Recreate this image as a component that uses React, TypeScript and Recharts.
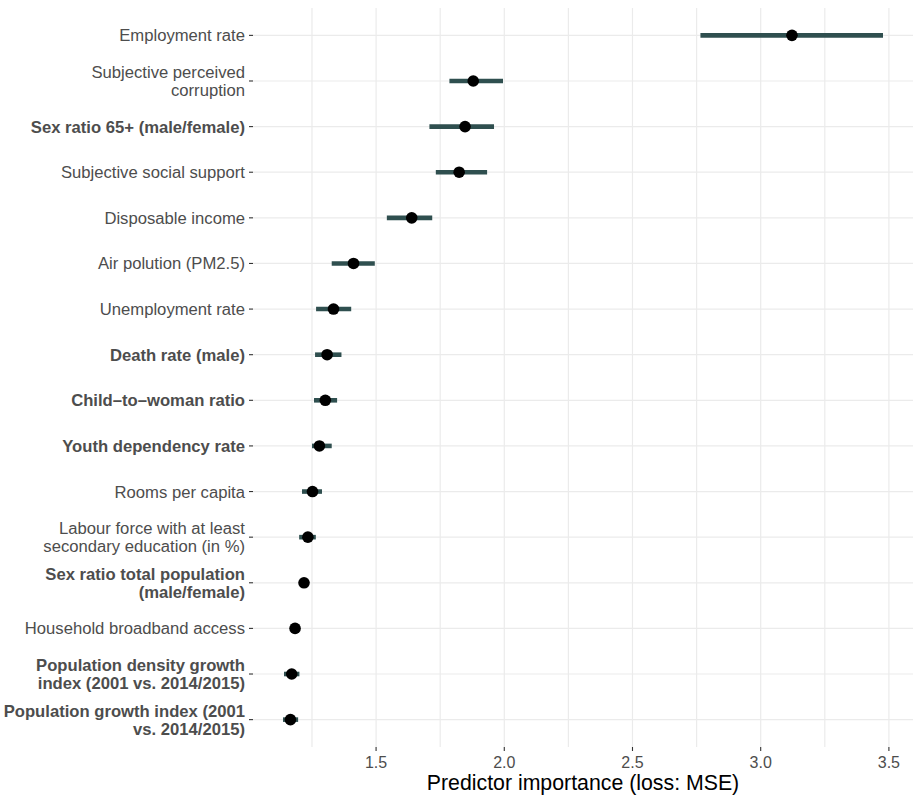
import React from "react";
import { ScatterChart, Scatter, XAxis, YAxis, CartesianGrid, ErrorBar } from "recharts";

const predictors = [
  "Employment rate",
  "Subjective perceived\ncorruption",
  "Sex ratio 65+ (male/female)",
  "Subjective social support",
  "Disposable income",
  "Air polution (PM2.5)",
  "Unemployment rate",
  "Death rate (male)",
  "Child\u2013to\u2013woman ratio",
  "Youth dependency rate",
  "Rooms per capita",
  "Labour force with at least\nsecondary education (in %)",
  "Sex ratio total population\n(male/female)",
  "Household broadband access",
  "Population density growth\nindex (2001 vs. 2014/2015)",
  "Population growth index (2001\nvs. 2014/2015)",
];

const highlighted = [
  "Sex ratio 65+ (male/female)",
  "Death rate (male)",
  "Child\u2013to\u2013woman ratio",
  "Youth dependency rate",
  "Sex ratio total population\n(male/female)",
  "Population density growth\nindex (2001 vs. 2014/2015)",
  "Population growth index (2001\nvs. 2014/2015)",
];

const importance = [3.122, 1.879, 1.847, 1.824, 1.639, 1.412, 1.334, 1.309, 1.302, 1.279, 1.252, 1.234, 1.219, 1.184, 1.171, 1.166];
const lower = [2.765, 1.786, 1.708, 1.733, 1.542, 1.327, 1.266, 1.262, 1.258, 1.25, 1.211, 1.2, 1.203, 1.17, 1.141, 1.137];
const upper = [3.477, 1.995, 1.96, 1.933, 1.719, 1.495, 1.403, 1.365, 1.348, 1.327, 1.289, 1.265, 1.235, 1.198, 1.201, 1.196];

const xTicks = [1.25, 1.5, 1.75, 2.0, 2.25, 2.5, 2.75, 3.0, 3.25, 3.5];
const xMajor = [1.5, 2.0, 2.5, 3.0, 3.5];
const xTitle = "Predictor importance (loss: MSE)";

const rows = predictors.map((name, i) => ({
  name,
  pos: i + 1,
  value: importance[i],
  err: [importance[i] - lower[i], upper[i] - importance[i]],
}));

const FONT = "'Liberation Sans', Arial, Helvetica, sans-serif";
const TEXT_GREY = "#4D4D4D";

const YTick = (props: any) => {
  const { x, y, payload } = props;
  const idx = Math.round(payload.value) - 1;
  const label = predictors[idx];
  if (!label) return <g />;
  const lines = label.split("\n");
  const bold = highlighted.includes(label);
  const lh = 18;
  const fs = 16.65;
  const start = y - ((lines.length - 1) * lh) / 2 + fs * 0.36;
  return (
    <text
      x={x}
      y={start}
      textAnchor="end"
      fontFamily={FONT}
      fontSize={fs}
      fontWeight={bold ? "bold" : "normal"}
      fill={TEXT_GREY}
    >
      {lines.map((l, i) => (
        <tspan key={i} x={x} y={start + i * lh}>
          {l}
        </tspan>
      ))}
    </text>
  );
};

const XTick = (props: any) => {
  const { x, y, payload } = props;
  const v = payload.value;
  if (!xMajor.some((m) => Math.abs(m - v) < 1e-6)) return <g />;
  const top = y - 9;
  return (
    <g>
      <line x1={x} x2={x} y1={top} y2={top + 4} stroke="#333333" strokeWidth={1.1} />
      <text
        x={x}
        y={top + 20.5}
        textAnchor="middle"
        fontFamily={FONT}
        fontSize={16}
        fill={TEXT_GREY}
      >
        {v.toFixed(1)}
      </text>
    </g>
  );
};

const Dot = (props: any) => {
  const { cx, cy } = props;
  if (cx == null || cy == null) return <g />;
  return <circle cx={cx} cy={cy} r={5.8} fill="#000000" />;
};

const Empty = () => <g />;

export default function App() {
  return (
    <div style={{ position: "absolute", left: 0, top: 0, background: "#ffffff" }}>
      <ScatterChart
        width={914}
        height={796}
        margin={{ top: 8, right: 1, bottom: 0, left: 0 }}
      >
        <CartesianGrid stroke="#EBEBEB" strokeWidth={1.2} syncWithTicks />
        <XAxis
          type="number"
          dataKey="value"
          domain={[1.02, 3.594]}
          allowDataOverflow
          ticks={xTicks}
          interval={0}
          height={49}
          tickSize={4}
          tickMargin={5}
          tickLine={false}
          axisLine={false}
          tick={<XTick />}
          label={{
            value: xTitle,
            position: "insideBottom",
            offset: 6,
            fill: "#000000",
            fontSize: 21.3,
            fontFamily: FONT,
          }}
        />
        <YAxis
          type="number"
          dataKey="pos"
          domain={[0.4, 16.6]}
          reversed
          allowDataOverflow
          ticks={predictors.map((_, i) => i + 1)}
          interval={0}
          width={253}
          tickSize={4}
          tickMargin={4}
          tickLine={{ stroke: "#333333", strokeWidth: 1.1 }}
          axisLine={false}
          tick={<YTick />}
        />
        <Scatter data={rows} shape={<Empty />} isAnimationActive={false}>
          <ErrorBar
            dataKey="err"
            direction="x"
            width={0}
            stroke="#2F4F4F"
            strokeWidth={4.6}
            isAnimationActive={false}
          />
        </Scatter>
        <Scatter data={rows} shape={<Dot />} isAnimationActive={false} />
      </ScatterChart>
    </div>
  );
}
